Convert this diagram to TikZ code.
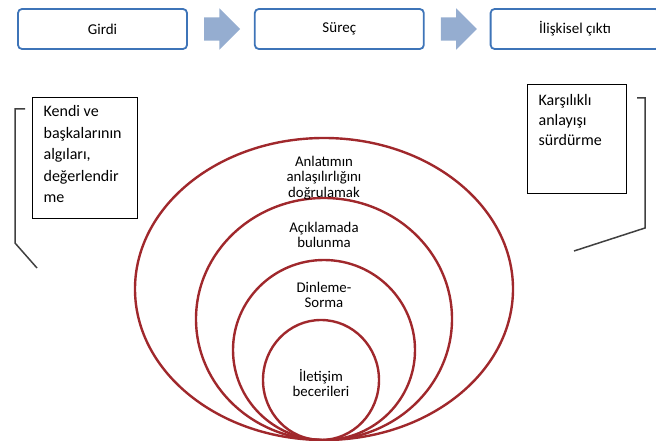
\documentclass[tikz,border=0pt]{standalone}
\usepackage{fontspec}
\setmainfont{Carlito}
\usepackage{tikz}
\usetikzlibrary{positioning,shapes.arrows}
\definecolor{stageblue}{RGB}{62,116,184}
\definecolor{flowfill}{RGB}{149,173,208}
\definecolor{ringred}{RGB}{160,40,44}
\definecolor{bracegray}{RGB}{64,64,64}
\tikzset{
  stagebox/.style={draw=stageblue,line width=1.8pt,rounded corners=4pt,
            minimum width=169pt,minimum height=40pt,
            font=\fontsize{15}{18}\selectfont,fill=white},
  flowarrow/.style={single arrow,fill=flowfill,draw=none,inner sep=0pt,
            text height=11.5pt,text depth=11.5pt,minimum height=36pt,
            single arrow head extend=9pt,single arrow head indent=0pt},
  sidebox/.style={draw,line width=1.2pt,inner xsep=11pt,anchor=north west,
            font=\fontsize{16}{21.5}\selectfont},
  ringtext/.style={align=center,font=\fontsize{14.8}{15.2}\selectfont},
  ring/.style={draw=ringred,line width=2.4pt},
  bracket/.style={draw=bracegray,line width=1.5pt},
}

\begin{document}
\begin{tikzpicture}[x=1pt,y=-1pt]
  \useasboundingbox (0,0) rectangle (656,441);
  \node[stagebox] (girdi) at (102.5,29) {Girdi};
  \node[flowarrow,right=16pt of girdi] (ok1) {};
  \node[stagebox,right=66pt of girdi] (surec) {Süreç};
  \node[flowarrow,right=16pt of surec] (ok2) {};
  \node[stagebox,right=65pt of surec] (cikti) {İlişkisel çıktı};

  \draw[ring] (324,289) ellipse [x radius=189pt,y radius=151pt];
  \draw[ring] (324,319) ellipse [x radius=128pt,y radius=121pt];
  \draw[ring] (324,350) ellipse [x radius=91pt,y radius=90pt];
  \draw[ring] (321,380) ellipse [x radius=58pt,y radius=60pt];
  \node[ringtext] (anlatim) at (324,178) {Anlatımın\\anlaşılırlığını\\doğrulamak};
  \node[ringtext] (aciklama) at (324,235) {Açıklamada\\bulunma};
  \node[ringtext] (dinleme) at (324,295) {Dinleme-\\Sorma};
  \node[ringtext] (iletisim) at (321,383) {İletişim\\becerileri};

  \node[sidebox,inner ysep=8pt] (kendi) at (32,97)
    {\parbox[t][105pt][t]{83pt}{Kendi ve\\başkalarının\\algıları,\\değerlendir\\me}};
  \node[sidebox,inner ysep=10pt,font=\fontsize{16}{20}\selectfont] (karsilik) at (527,84)
    {\parbox[t][89pt][t]{77pt}{Karşılıklı\\anlayışı\\sürdürme}};

  \coordinate (solust) at (25,109);
  \coordinate (solkose) at (15,243);
  \coordinate (solalt) at (37,268);
  \coordinate (sagust) at (637,98);
  \coordinate (sagkose) at (645,228);
  \coordinate (sagalt) at (574,251);
  \draw[bracket] (solust) -| (solkose) -- (solalt);
  \draw[bracket] (sagust) -| (sagkose) -- (sagalt);
\end{tikzpicture}
\end{document}
